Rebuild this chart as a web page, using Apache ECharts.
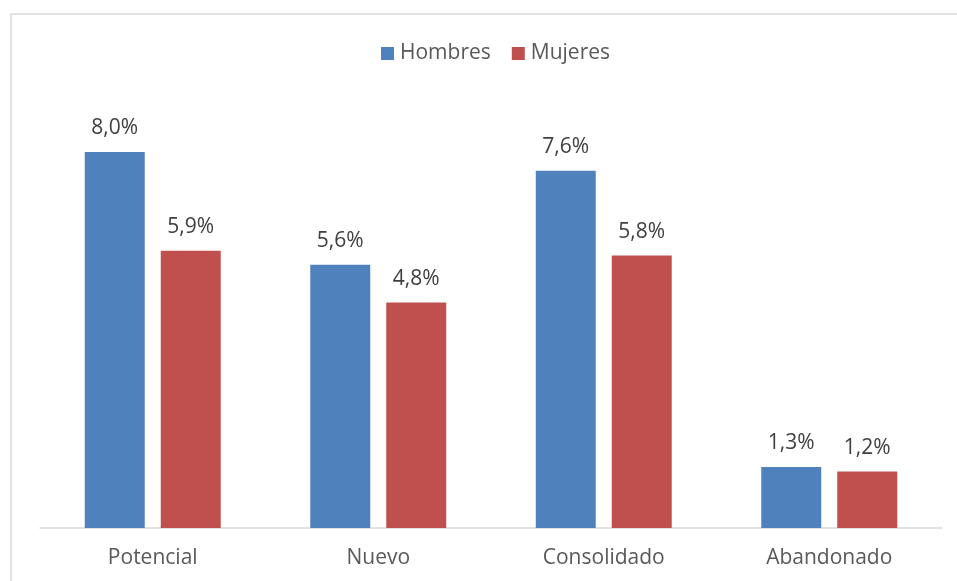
<!DOCTYPE html>
<html><head><meta charset="utf-8">
<script src="https://cdn.jsdelivr.net/npm/echarts@6/dist/echarts.min.js"></script>
<style>html,body{margin:0;padding:0;background:#fff}#c{width:957px;height:581px}</style>
</head><body><div id="c"></div>
<script>
const categories = ['Potencial', 'Nuevo', 'Consolidado', 'Abandonado'];
const hombres = [8.0, 5.6, 7.6, 1.3];
const mujeres = [5.9, 4.8, 5.8, 1.2];
const seriesNames = ['Hombres', 'Mujeres'];

const chart = echarts.init(document.getElementById('c'));
const fmt = p => p.value.toFixed(1).replace('.', ',') + '%';
const font = 'Open Sans';
chart.setOption({
  animation: false,
  graphic: [{ type: 'rect', shape: { x: 11, y: 14, width: 1000, height: 700 }, style: { fill: 'none', stroke: '#d9d9d9', lineWidth: 1.5 }, silent: true }],
  legend: { top: 38, left: 376, itemWidth: 13, itemHeight: 13, itemGap: 21, icon: 'rect',
    textStyle: { fontFamily: font, fontSize: 21, color: '#595959', padding: [0, 0, 0, 1] } },
  grid: { left: 40, right: 15, top: 105, bottom: 53 },
  xAxis: { type: 'category', data: categories,
    axisLine: { lineStyle: { color: '#d9d9d9', width: 1.5 } }, axisTick: { show: false },
    axisLabel: { fontFamily: font, fontSize: 21, color: '#595959', margin: 20 } },
  yAxis: { type: 'value', min: 0, max: 9, show: false, splitLine: { show: false } },
  series: [
    { name: seriesNames[0], type: 'bar', data: hombres, barGap: '26.7%', barCategoryGap: '39.7%',
      itemStyle: { color: '#4f81bd' },
      label: { show: true, position: 'top', distance: 13, formatter: fmt, fontFamily: font, fontSize: 21, color: '#404040' } },
    { name: seriesNames[1], type: 'bar', data: mujeres,
      itemStyle: { color: '#c0504d' },
      label: { show: true, position: 'top', distance: 13, formatter: fmt, fontFamily: font, fontSize: 21, color: '#404040' } }
  ]
});
</script></body></html>
